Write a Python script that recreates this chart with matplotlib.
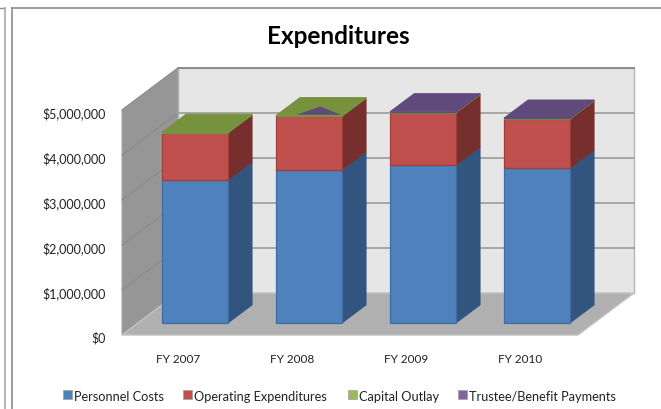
import matplotlib
matplotlib.use("Agg")
import matplotlib.pyplot as plt
from matplotlib.patches import Polygon, Rectangle

plt.rcParams['font.family'] = ['Lato', 'DejaVu Sans']

# chart data
years = ["FY 2007", "FY 2008", "FY 2009", "FY 2010"]
personnel = [3180000, 3400000, 3510000, 3440000]
operating = [1040000, 1190000, 1160000, 1090000]
capital = [20000, 20000, 15000, 15000]
trustee = [0, 0, 10000, 10000]
yticks = [0, 1000000, 2000000, 3000000, 4000000, 5000000]

series = [
    ("Personnel Costs", personnel, "#4F81BD", "#31557F", "#4F81BD", "#3F6CA3"),
    ("Operating Expenditures", operating, "#C0504D", "#772F2D", "#C0504D", "#9E3D3A"),
    ("Capital Outlay", capital, "#76923C", "#76923C", "#9BBB59", "#76923C"),
    ("Trustee/Benefit Payments", trustee, "#604A7B", "#604A7B", "#8064A2", "#604A7B"),
]

# oblique 3d look: one unit of depth shifts a point right and up
px_x = 114.0
px_y = 45.0 / 1e6
depth_x = 56 / px_x
depth_y = 42 / px_y
bar_width = 66 / px_x
bar_d0 = 0.286
bar_d1 = 0.716


def proj(x, val, d):
    return (x + d * depth_x, val + d * depth_y)


def px_to_data(x, y):
    return (0.5 + (x - 122) / px_x, (336 - y) / px_y)


fig = plt.figure(figsize=(6.61, 4.10), dpi=100)
ax = fig.add_axes([0, 0, 1, 1])
ax.set_xlim(px_to_data(0, 0)[0], px_to_data(661, 0)[0])
ax.set_ylim(px_to_data(0, 410)[1], px_to_data(0, 0)[1])
ax.axis("off")

# sheet frame lines
for xs, ys, c, lw in [
    ((0, 5), (9, 9), "#8C8C8C", 1.0),
    ((5, 5), (9, 410), "#B4B4B4", 1.4),
    ((11.5, 11.5), (9, 410), "#8C8C8C", 1.2),
    ((11.5, 661), (9, 9), "#8C8C8C", 1.2),
]:
    p0 = px_to_data(xs[0], ys[0])
    p1 = px_to_data(xs[1], ys[1])
    ax.plot([p0[0], p1[0]], [p0[1], p1[1]], color=c, lw=lw, zorder=1)

# walls and floor
x0, x1 = 0.5, 4.5
top = 5000000
ax.add_patch(Polygon([proj(x0, 0, 1), proj(x1, 0, 1), proj(x1, top, 1), proj(x0, top, 1)],
                     fc="#E6E6E6", ec="#B4B4B4", lw=1, zorder=2))
ax.add_patch(Polygon([proj(x0, 0, 0), proj(x0, 0, 1), proj(x0, top, 1), proj(x0, top, 0)],
                     fc="#969696", ec="#A8A8A8", lw=0.8, zorder=2))
ax.add_patch(Polygon([proj(x0, 0, 0), proj(x1, 0, 0), proj(x1, 0, 1), proj(x0, 0, 1)],
                     fc="#B0B0B0", ec="#C4C4C4", lw=1, zorder=2))

for v in yticks[1:]:
    a, b, c = proj(x0, v, 0), proj(x0, v, 1), proj(x1, v, 1)
    ax.plot([a[0], b[0]], [a[1], b[1]], color="#8A8A8A", lw=0.8, zorder=3)
    ax.plot([b[0], c[0]], [b[1], c[1]], color="#A6A6A6" if v < top else "#8C8C8C", lw=1.4, zorder=3)

# stacked bars, front / side / top faces
for i, year in enumerate(years):
    xc = i + 1
    xl = xc - bar_width / 2
    xr = xc + bar_width / 2
    base = 0
    top_color = None
    for name, vals, front, side, swatch, edge in series:
        h = vals[i]
        if h == 0:
            continue
        ax.add_patch(Polygon([proj(xr, base, bar_d0), proj(xr, base, bar_d1),
                              proj(xr, base + h, bar_d1), proj(xr, base + h, bar_d0)],
                             fc=side, ec=side, lw=0.6, zorder=4))
        ax.add_patch(Polygon([proj(xl, base, bar_d0), proj(xr, base, bar_d0),
                              proj(xr, base + h, bar_d0), proj(xl, base + h, bar_d0)],
                             fc=front, ec=edge, lw=0.9, zorder=5))
        base += h
        top_color = front
    ax.add_patch(Polygon([proj(xl, base, bar_d0), proj(xr, base, bar_d0),
                          proj(xr, base, bar_d1), proj(xl, base, bar_d1)],
                         fc=top_color, ec=top_color, lw=0.6, zorder=6))
    if year == "FY 2008":
        # purple sliver that pokes through the green top
        w = xr - xl
        span = bar_d1 - bar_d0
        ax.add_patch(Polygon([proj(xl + 0.29 * w, base, bar_d0 + 0.04 * span),
                              proj(xl + 0.97 * w, base, bar_d0 + 0.04 * span),
                              proj(xl + 0.49 * w, base, bar_d0 + 0.5 * span)],
                             fc="#604A7B", ec="none", zorder=7))
    ax.text(xc - 1 / px_x, px_to_data(0, 360)[1], year, ha="center", va="center", fontsize=8.5,
            color="#222222", zorder=8)

for v in yticks:
    label = "${:,}".format(v)
    ax.text(px_to_data(106, 0)[0], v - 2.5 / px_y, label, ha="right", va="center", fontsize=9,
            color="#222222", zorder=8)

ax.text(*px_to_data(338, 37), "Expenditures", ha="center", va="center", fontsize=17.5,
        fontweight="bold", color="black", zorder=8)

# legend, laid out by hand so entries sit where the original has them
legend_x = [63, 183, 348, 458]
for (name, vals, front, side, swatch, edge), lx in zip(series, legend_x):
    p = px_to_data(lx, 400)
    q = px_to_data(lx + 9, 391)
    ax.add_patch(Rectangle(p, q[0] - p[0], q[1] - p[1], fc=swatch, ec="#A0A0A0", lw=0.5, zorder=8))
    ax.text(*px_to_data(lx + 11, 397), name, ha="left", va="center", fontsize=9.2,
            color="#222222", zorder=8)

fig.savefig("out.png", dpi=100)
